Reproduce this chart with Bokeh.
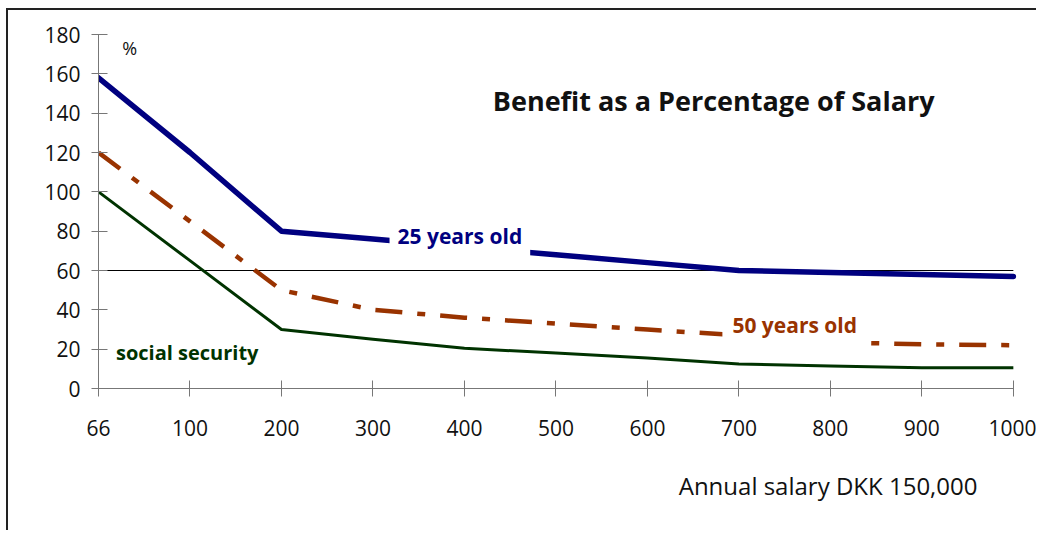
from bokeh.plotting import figure
from bokeh.models import FixedTicker, Label, ColumnDataSource, Title
from bokeh.embed import file_html
from bokeh.resources import INLINE

x_labels = ["66", "100", "200", "300", "400", "500", "600", "700", "800", "900", "1000"]
age25 = [158, 120, 80, 76, 72, 68, 64, 60, 59, 58, 57]
age50 = [120, 85, 50, 40, 36, 33, 30, 27, 23.5, 22.5, 22]
social = [100, 65, 30, 25, 20.5, 18, 15.5, 12.5, 11.5, 10.5, 10.5]
y_ticks = [0, 20, 40, 60, 80, 100, 120, 140, 160, 180]
ref_level = 60

xs = list(range(len(x_labels)))
src = ColumnDataSource(dict(x=xs, a25=age25, a50=age50, soc=social))

FONT = "Open Sans"

p = figure(width=1030, height=522, x_range=(0, 10.1), y_range=(0, 180),
           output_backend="svg", toolbar_location=None,
           min_border_left=90, min_border_right=16, min_border_top=24, min_border_bottom=144)
p.styles = {"border-top": "2px solid #222", "border-left": "2px solid #222",
            "margin-left": "6px", "margin-top": "8px"}
p.outline_line_color = None
p.xgrid.visible = False
p.ygrid.visible = False
p.background_fill_color = "white"

# axes
p.xaxis.ticker = FixedTicker(ticks=xs)
p.xaxis.major_label_overrides = {i: s for i, s in enumerate(x_labels)}
p.xaxis.bounds = (xs[0], xs[-1])
p.yaxis.ticker = FixedTicker(ticks=y_ticks)
p.yaxis.bounds = (y_ticks[0], y_ticks[-1])
for ax in (p.xaxis, p.yaxis):
    ax.axis_line_color = "#777777"
    ax.major_tick_line_color = "#777777"
    ax.minor_tick_line_color = None
    ax.major_label_text_font = FONT
    ax.major_label_text_font_size = "21px"
    ax.major_label_text_color = "#111111"
p.xaxis.major_tick_in = 8
p.xaxis.major_tick_out = 8
p.xaxis.major_label_standoff = 23
p.yaxis.major_tick_in = 9
p.yaxis.major_tick_out = 7
p.yaxis.major_label_standoff = 11

p.add_layout(Title(text="Annual salary DKK 150,000", align="right", offset=45,
                   text_font=FONT, text_font_size="24px", text_font_style="normal",
                   text_color="#111111", standoff=56), "below")

# reference line at 60
p.line(x=[xs[0], xs[-1]], y=[ref_level, ref_level], line_color="black", line_width=1)

p.line("x", "soc", source=src, line_color="#003300", line_width=3, line_join="round")
p.line("x", "a50", source=src, line_color="#993300", line_width=4.5, line_dash="27 15 8 15",
       line_cap="butt")
p.line("x", "a25", source=src, line_color="#000080", line_width=5.5, line_join="round",
       line_cap="round")

def add_label(text, x, y, color, size, bold=True, align="center", bg=False, pad=0):
    kw = {}
    if bg:
        kw = dict(background_fill_color="white", padding=pad)
    lab = Label(x=x, y=y, text=text, text_color=color, text_font=FONT,
                text_font_size=size, text_font_style="bold" if bold else "normal",
                text_align=align, text_baseline="middle", **kw)
    p.add_layout(lab)

add_label("25 years old", 3.95, 77.5, "#000080", "21px", bg=True, pad=8)
add_label("50 years old", 7.61, 32.5, "#993300", "21px", bg=True, pad=10)
add_label("social security", 0.97, 18.5, "#003300", "20px")
add_label("%", 0.26, 173, "#111111", "18px", bold=False, align="left")
add_label("Benefit as a Percentage of Salary", 4.31, 146.5, "#111111", "27px", align="left")

open("out.html", "w").write(file_html(p, INLINE))
